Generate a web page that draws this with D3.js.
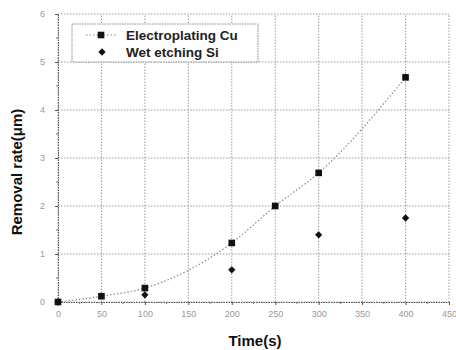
<!DOCTYPE html>
<html>
<head>
<meta charset="utf-8">
<script src="https://cdn.jsdelivr.net/npm/d3@7"></script>
<style>
  body { margin: 0; background: #fff; }
  svg { display: block; }
</style>
</head>
<body>
<div id="chart"></div>
<script>
// data
var xTicks = [0, 50, 100, 150, 200, 250, 300, 350, 400, 450];
var yTicks = [0, 1, 2, 3, 4, 5, 6];
var cuTime = [0, 50, 100, 200, 250, 300, 400];
var cuRate = [0, 0.12, 0.29, 1.23, 2.0, 2.69, 4.68];
var siTime = [0, 100, 200, 300, 400];
var siRate = [0, 0.15, 0.67, 1.4, 1.75];
var seriesNames = ["Electroplating Cu", "Wet etching Si"];

var width = 456, height = 350;
var margin = { left: 58, right: 7, top: 14, bottom: 48 };

var svg = d3.select('#chart').append('svg')
      .attr('width', width)
      .attr('height', height);

var x = d3.scaleLinear().domain([0, 450]).range([margin.left, width - margin.right]);
var y = d3.scaleLinear().domain([0, 6]).range([height - margin.bottom, margin.top]);

//grid
var grid = svg.append('g').attr('stroke', '#9a9a9a').attr('stroke-width', 1).attr('stroke-dasharray', '1.5,1.5');
grid.selectAll('.vg').data(xTicks).enter().append('line')
      .attr('x1', function (d) { return x(d); }).attr('x2', function (d) { return x(d); })
      .attr('y1', y(0)).attr('y2', y(6));
grid.selectAll('.hg').data(yTicks).enter().append('line')
      .attr('x1', x(0)).attr('x2', x(450))
      .attr('y1', function (d) { return y(d); }).attr('y2', function (d) { return y(d); });

//axes
var xAxis = d3.axisBottom(x).tickValues(xTicks).tickFormat(d3.format('d')).tickSize(3).tickPadding(6);
var yAxis = d3.axisLeft(y).tickValues(yTicks).tickFormat(d3.format('d')).tickSize(3).tickPadding(10);
var gx = svg.append('g').attr('transform', 'translate(0,' + y(0) + ')').call(xAxis);
var gy = svg.append('g').attr('transform', 'translate(' + x(0) + ',0)').call(yAxis);
[gx, gy].forEach(function (g) {
      g.select('.domain').attr('stroke', '#555').attr('stroke-dasharray', '1.5,1');
      g.selectAll('.tick line').attr('stroke', '#555');
      g.selectAll('.tick text').attr('fill', '#999').style('font-family', 'Arial, Liberation Sans, sans-serif').style('font-size', '9px');
});

//minor ticks
svg.append('g').selectAll('line').data(d3.range(25, 450, 50)).enter().append('line')
      .attr('x1', function (d) { return x(d); }).attr('x2', function (d) { return x(d); })
      .attr('y1', y(0)).attr('y2', y(0) + 2).attr('stroke', '#777');
svg.append('g').selectAll('line').data(d3.range(0.5, 6, 1)).enter().append('line')
      .attr('x1', x(0) - 2).attr('x2', x(0))
      .attr('y1', function (d) { return y(d); }).attr('y2', function (d) { return y(d); }).attr('stroke', '#777');

//curve for electroplating Cu
var cuData = cuTime.map(function (t, i) { return [t, cuRate[i]]; });
var siData = siTime.map(function (t, i) { return [t, siRate[i]]; });
var line = d3.line().x(function (d) { return x(d[0]); }).y(function (d) { return y(d[1]); }).curve(d3.curveMonotoneX);
svg.append('path').datum(cuData).attr('d', line)
      .attr('fill', 'none').attr('stroke', '#8a8a8a').attr('stroke-width', 1.2).attr('stroke-dasharray', '1.5,2');

//markers
var square = d3.symbol().type(d3.symbolSquare).size(44);
var diamond = d3.symbol().type(d3.symbolDiamond2).size(34);
svg.append('g').selectAll('path').data(cuData).enter().append('path')
      .attr('d', square)
      .attr('transform', function (d) { return 'translate(' + x(d[0]) + ',' + y(d[1]) + ')'; })
      .attr('fill', '#111');
svg.append('g').selectAll('path').data(siData).enter().append('path')
      .attr('d', diamond)
      .attr('transform', function (d) { return 'translate(' + x(d[0]) + ',' + y(d[1]) + ')'; })
      .attr('fill', '#111');

//legend
var lg = svg.append('g');
lg.append('rect').attr('x', 72).attr('y', 24).attr('width', 186).attr('height', 38)
      .attr('fill', '#fff').attr('stroke', '#888').attr('stroke-dasharray', '1.5,1');
lg.append('line').attr('x1', 86).attr('x2', 116).attr('y1', 35).attr('y2', 35)
      .attr('stroke', '#8a8a8a').attr('stroke-width', 1.2).attr('stroke-dasharray', '1.5,2');
lg.append('path').attr('d', square).attr('transform', 'translate(101,35)').attr('fill', '#111');
lg.append('path').attr('d', diamond).attr('transform', 'translate(102,52)').attr('fill', '#111');
lg.selectAll('text').data(seriesNames).enter().append('text')
      .attr('x', 126).attr('y', function (d, i) { return 40 + i * 17; })
      .style('font-family', 'Arial, Liberation Sans, sans-serif').style('font-size', '13.5px').style('font-weight', 'bold')
      .attr('fill', '#222')
      .text(function (d) { return d; });

//axis titles
svg.append('text').attr('x', 255).attr('y', 346).attr('text-anchor', 'middle')
      .style('font-family', 'Arial, Liberation Sans, sans-serif').style('font-size', '15px').style('font-weight', 'bold')
      .attr('fill', '#111').text('Time(s)');
svg.append('text').attr('transform', 'translate(22,172) rotate(-90)').attr('text-anchor', 'middle')
      .style('font-family', 'Arial, Liberation Sans, sans-serif').style('font-size', '15px').style('font-weight', 'bold')
      .attr('fill', '#111').text('Removal rate(μm)');
</script>
</body>
</html>
